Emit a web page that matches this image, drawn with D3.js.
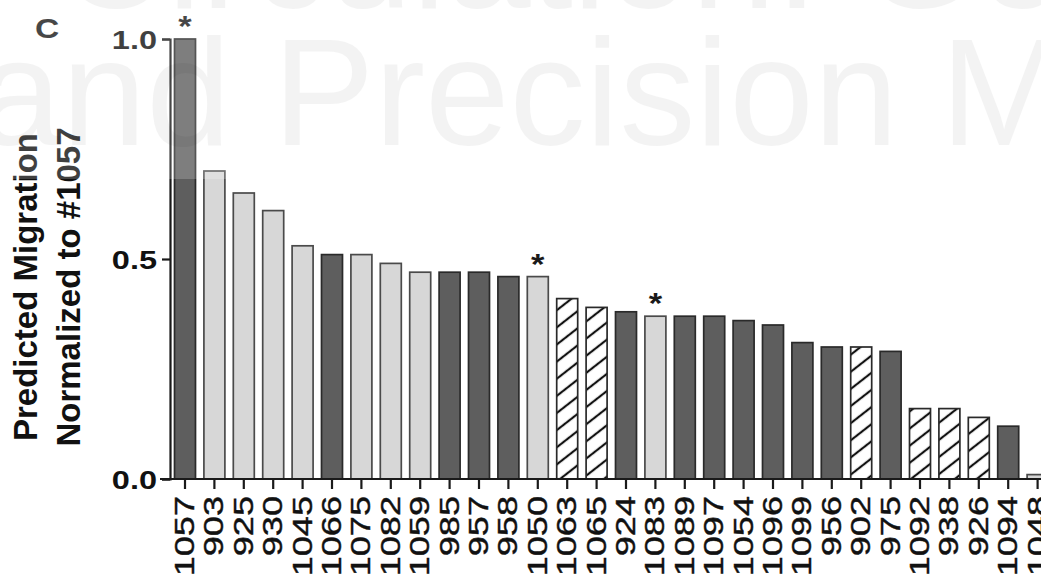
<!DOCTYPE html>
<html>
<head>
<meta charset="utf-8">
<script src="https://cdn.jsdelivr.net/npm/d3@7"></script>
<style>
  body { margin: 0; background: #fff; }
  svg { display: block; }
</style>
</head>
<body>
<svg id="chart" width="1041" height="581"></svg>
<script>
// Strain IDs in plotted order (sorted by predicted migration)
const strains = ["1057","903","925","930","1045","1066","1075","1082","1059","985",
                 "957","958","1050","1063","1065","924","1083","1089","1097","1054",
                 "1096","1099","956","902","975","1092","938","926","1094","1048"];
// Predicted migration, normalized to strain #1057
const migration = [1.00,0.70,0.65,0.61,0.53,0.51,0.51,0.49,0.47,0.47,
                   0.47,0.46,0.46,0.41,0.39,0.38,0.37,0.37,0.37,0.36,
                   0.35,0.31,0.30,0.30,0.29,0.16,0.16,0.14,0.12,0.01];
// Bar fill group for each strain
const group = ["dark","light","light","light","light","dark","light","light","light","dark",
               "dark","dark","light","hatched","hatched","dark","light","dark","dark","dark",
               "dark","dark","dark","hatched","dark","hatched","hatched","hatched","dark","light"];
// Strains marked with an asterisk
const starred = ["1057","1050","1083"];
const yTicks = [0, 0.5, 1.0];
const yTitle = ["Predicted Migration", "Normalized to #1057"];
const panelLetter = "C";
const watermark = ["Circulation: Genomic", "and Precision Medicine"];

const fills = { dark: "#5e5e5e", light: "#d7d7d7", hatched: "url(#hatch)" };
const FONT = "'Liberation Sans', Arial, Helvetica, sans-serif";

const svg = d3.select("#chart");

// Diagonal hatch pattern
const defs = svg.append("defs");
const pat = defs.append("pattern")
  .attr("id", "hatch")
  .attr("patternUnits", "userSpaceOnUse")
  .attr("width", 14).attr("height", 13.5)
  .attr("patternTransform", "rotate(-38)");
pat.append("rect").attr("width", 14).attr("height", 13.5).attr("fill", "#fff");
pat.append("line")
  .attr("x1", 0).attr("x2", 14).attr("y1", 6.75).attr("y2", 6.75)
  .attr("stroke", "#111").attr("stroke-width", 2.2);

const data = strains.map((s, i) => ({ id: s, v: migration[i], g: group[i], star: starred.includes(s) }));

const x = d3.scaleBand().domain(strains).range([170.3, 1052.3]).paddingInner(0.286).paddingOuter(0.143);
const y = d3.scaleLinear().domain([0, 1]).range([479, 39]);

// Bars
svg.append("g").selectAll("rect")
  .data(data)
  .join("rect")
  .attr("x", d => x(d.id))
  .attr("y", d => y(d.v))
  .attr("width", x.bandwidth())
  .attr("height", d => y(0) - y(d.v))
  .attr("fill", d => fills[d.g])
  .attr("stroke", d => d.g === "light" ? "#4a4a4a" : "#2a2a2a")
  .attr("stroke-width", 1.7);

// Significance asterisks
svg.append("g").selectAll("text")
  .data(data.filter(d => d.star))
  .join("text")
  .attr("transform", d => `translate(${x(d.id) + x.bandwidth() / 2},${y(d.v) - 3}) scale(1.15,1)`)
  .attr("text-anchor", "middle")
  .attr("font-family", FONT)
  .attr("font-weight", "bold")
  .attr("font-size", 30)
  .attr("fill", "#1a1a1a")
  .text("*");

// Y axis
const yAxis = svg.append("g").attr("transform", "translate(170,0)")
  .call(d3.axisLeft(y).tickValues(yTicks).tickSize(8).tickFormat(d3.format(".1f")));
yAxis.select(".domain").attr("stroke", "#1a1a1a").attr("stroke-width", 2.2);
yAxis.selectAll(".tick line").attr("stroke", "#1a1a1a").attr("stroke-width", 2.2);
yAxis.selectAll(".tick text")
  .attr("x", null).attr("dy", null)
  .attr("text-anchor", "end")
  .attr("transform", "translate(-13,9) scale(1.3,1)")
  .attr("font-family", FONT)
  .attr("font-weight", "bold")
  .attr("font-size", 25)
  .attr("fill", "#111");

// X axis
const xAxis = svg.append("g").attr("transform", "translate(0,479)")
  .call(d3.axisBottom(x).tickSize(10).tickSizeOuter(0));
xAxis.select(".domain").attr("stroke", "#1a1a1a").attr("stroke-width", 2.2)
  .attr("d", "M160,0H1052");
xAxis.selectAll(".tick line").attr("stroke", "#1a1a1a").attr("stroke-width", 2.2);
xAxis.selectAll(".tick text")
  .attr("x", null).attr("y", null).attr("dy", null)
  .attr("text-anchor", "end")
  .attr("transform", "translate(9,17) rotate(-90) scale(1.29,1)")
  .attr("font-family", FONT)
  .attr("font-size", 28)
  .attr("stroke", "#111")
  .attr("stroke-width", 0.4)
  .attr("fill", "#111");

// Y axis title (two lines)
const yt = svg.append("text")
  .attr("transform", "translate(0,287) rotate(-90)")
  .attr("text-anchor", "middle")
  .attr("font-family", FONT)
  .attr("font-weight", "bold")
  .attr("font-size", 33)
  .attr("fill", "#111");
yt.selectAll("tspan").data(yTitle).join("tspan")
  .attr("x", 0)
  .attr("y", (d, i) => i === 0 ? 37 : 80)
  .text(d => d);

// Panel letter
svg.append("text")
  .attr("transform", "translate(35,38) scale(1.2,1)")
  .attr("font-family", FONT)
  .attr("font-weight", "bold")
  .attr("font-size", 28)
  .attr("fill", "#1a1a1a")
  .text(panelLetter);

// Journal watermark band across the top
svg.append("rect")
  .attr("x", 0).attr("y", 0).attr("width", 1041).attr("height", 179)
  .attr("fill", "#fff").attr("opacity", 0.2);
svg.append("g").selectAll("text")
  .data(watermark)
  .join("text")
  .attr("x", 763)
  .attr("y", (d, i) => i === 0 ? 8 : 145)
  .attr("text-anchor", "middle")
  .attr("font-family", FONT)
  .attr("font-size", 152)
  .attr("fill", "#000")
  .attr("opacity", 0.045)
  .text(d => d);
</script>
</body>
</html>
